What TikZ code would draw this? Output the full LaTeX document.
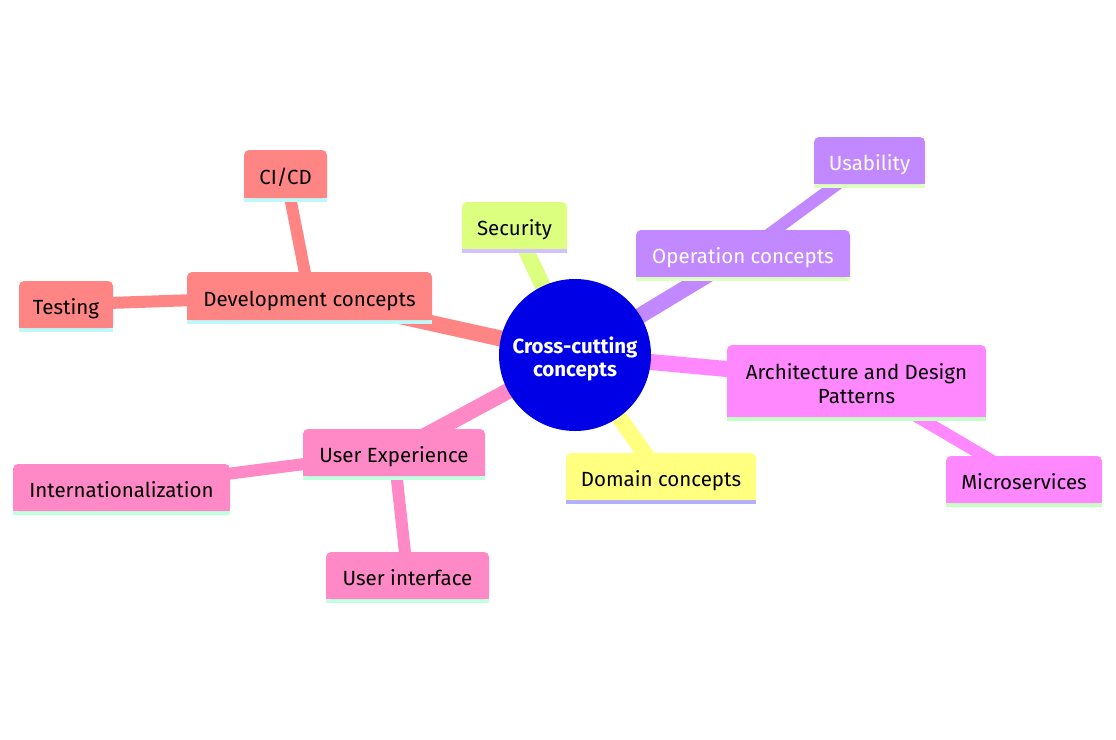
\documentclass[tikz,border=0pt]{standalone}
\usepackage{fontspec}
\setmainfont{Fira Sans}
\pgfdeclarelayer{edges}
\pgfdeclarelayer{boxes}
\pgfsetlayers{edges,boxes,main}
\definecolor{cCenter}{RGB}{0,0,230}
\definecolor{cDev}{RGB}{255,133,133}
\definecolor{cSec}{RGB}{220,255,128}
\definecolor{cOp}{RGB}{194,136,255}
\definecolor{cArch}{RGB}{255,136,255}
\definecolor{cDom}{RGB}{255,255,128}
\definecolor{cUx}{RGB}{255,136,198}
\definecolor{bDev}{RGB}{192,248,248}
\definecolor{bSec}{RGB}{212,191,255}
\definecolor{bOp}{RGB}{223,255,192}
\definecolor{bArch}{RGB}{196,255,196}
\definecolor{bDom}{RGB}{176,176,255}
\definecolor{bUx}{RGB}{192,255,224}
\tikzset{
  mbox/.style={rounded corners=5pt, inner sep=0pt, align=center,
    font=\fontsize{20.5}{24}\selectfont, text=black,
    text height=20pt, text depth=0pt},
  lvlone/.style={line width=16pt},
  lvltwo/.style={line width=12pt},
}
\newcommand{\mmbox}[9]{%
  % name, x, y, w, h, fill, bar, text height, text
  \node[mbox, fill=#6, minimum width=#4, minimum height=#5, text height=#8] (#1) at (#2,#3) {#9};
  \begin{pgfonlayer}{boxes}
    \fill[#6] (#1.west) rectangle (#1.south east);
    \fill[#7] (#1.south west) rectangle ([yshift=-4pt]#1.south east);
  \end{pgfonlayer}
}
\begin{document}
\begin{tikzpicture}[x=1pt,y=-1pt]
\useasboundingbox (0,0) rectangle (1116,739);
\node[circle, fill=cCenter, minimum size=152pt, inner sep=0pt, align=center,
  text=white, text height=42pt, text depth=0pt,
  font=\bfseries\fontsize{20.5}{23}\selectfont] (root) at (575,355) {Cross-cutting\\concepts};

\mmbox{cicd}{285.5}{174}{83pt}{48pt}{cDev}{bDev}{20pt}{CI/CD}
\mmbox{dev}{309.5}{296}{245pt}{48pt}{cDev}{bDev}{20pt}{Development concepts}
\mmbox{test}{66}{304.5}{94pt}{47pt}{cDev}{bDev}{20pt}{Testing}
\mmbox{sec}{514.5}{225.5}{105pt}{47pt}{cSec}{bSec}{20pt}{Security}
\mmbox{op}{743}{253.5}{214pt}{47pt}{cOp}{bOp}{20pt}{\textcolor{white}{Operation concepts}}
\mmbox{usab}{869.5}{160.5}{111pt}{47pt}{cOp}{bOp}{20pt}{\textcolor{white}{Usability}}
\mmbox{arch}{856.5}{381}{259pt}{72pt}{cArch}{bArch}{45pt}{Architecture and Design\\Patterns}
\mmbox{micro}{1024}{479.5}{156pt}{47pt}{cArch}{bArch}{20pt}{Microservices}
\mmbox{dom}{661}{476.5}{190pt}{47pt}{cDom}{bDom}{20pt}{Domain concepts}
\mmbox{ux}{394}{452.5}{182pt}{47pt}{cUx}{bUx}{20pt}{User Experience}
\mmbox{intl}{121.5}{487.5}{217pt}{47pt}{cUx}{bUx}{20pt}{Internationalization}
\mmbox{ui}{407.5}{575.5}{163pt}{47pt}{cUx}{bUx}{20pt}{User interface}

\begin{pgfonlayer}{edges}
  \draw[lvlone, cDev] (root.center) -- (dev.center);
  \draw[lvltwo, cDev] (dev.center) -- (cicd.center);
  \draw[lvltwo, cDev] (dev.center) -- (test.center);
  \draw[lvlone, cSec] (root.center) -- (sec.center);
  \draw[lvlone, cOp] (root.center) -- (op.center);
  \draw[lvltwo, cOp] (op.center) -- (usab.center);
  \draw[lvlone, cArch] (root.center) -- (arch.center);
  \draw[lvltwo, cArch] (arch.center) -- (micro.center);
  \draw[lvlone, cDom] (root.center) -- (dom.center);
  \draw[lvlone, cUx] (root.center) -- (ux.center);
  \draw[lvltwo, cUx] (ux.center) -- (intl.center);
  \draw[lvltwo, cUx] (ux.center) -- (ui.center);
\end{pgfonlayer}
\end{tikzpicture}
\end{document}
